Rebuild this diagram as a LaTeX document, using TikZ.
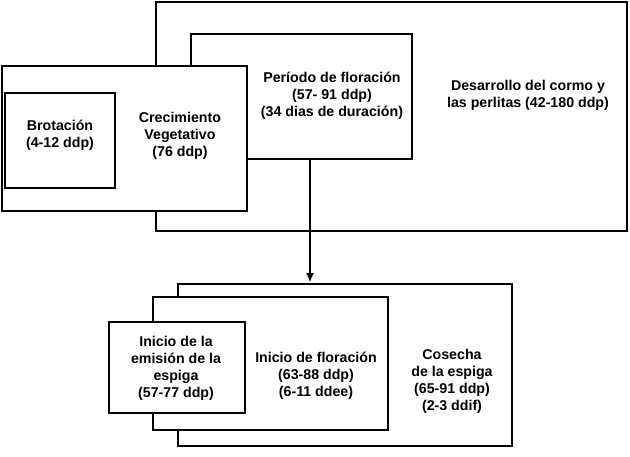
\documentclass[tikz,border=0pt]{standalone}
\usepackage{fontspec}
\usetikzlibrary{arrows.meta}
\setmainfont{Liberation Sans}
\begin{document}
\begin{tikzpicture}[x=1pt,y=-1pt,
 bx/.style={draw,line width=2.8pt,fill=white},
 tx/.style={align=center,font=\fontsize{14.2}{17}\selectfont\bfseries,inner sep=0pt}]
\useasboundingbox (0,0) rectangle (630,456);
\draw[bx] (156,2) rectangle (627,231);
\draw[bx] (191,34) rectangle (412,159);
\draw[bx] (2,66) rectangle (247,211);
\draw[bx] (5,93) rectangle (115,188);
\node[tx] (dc) at (528,95) {Desarrollo del cormo y\\las perlitas (42-180 ddp)};
\node[tx] (pf) at (332,96) {Período de floración\\(57- 91 ddp)\\(34 dias de duración)};
\node[tx] (cv) at (180,136) {Crecimiento\\Vegetativo\\(76 ddp)};
\node[tx] (br) at (60,135) {Brotación\\(4-12 ddp)};
\draw[bx] (178,284) rectangle (512,446);
\draw[bx] (153,297) rectangle (388,430);
\draw[bx] (109,322) rectangle (245,413);
\node[tx] (ce) at (452,381) {Cosecha\\de la espiga\\(65-91 ddp)\\(2-3 ddif)};
\node[tx] (if) at (316,376) {Inicio de floración\\(63-88 ddp)\\(6-11 ddee)};
\node[tx] (ie) at (176,368) {Inicio de la\\emisión de la\\espiga\\(57-77 ddp)};
\coordinate (a1) at (310,160);
\coordinate (a2) at (310,282);
\draw[line width=1.2pt,-{Latex[length=9pt,width=8pt]}] (a1) -- (a2);
\end{tikzpicture}
\end{document}
